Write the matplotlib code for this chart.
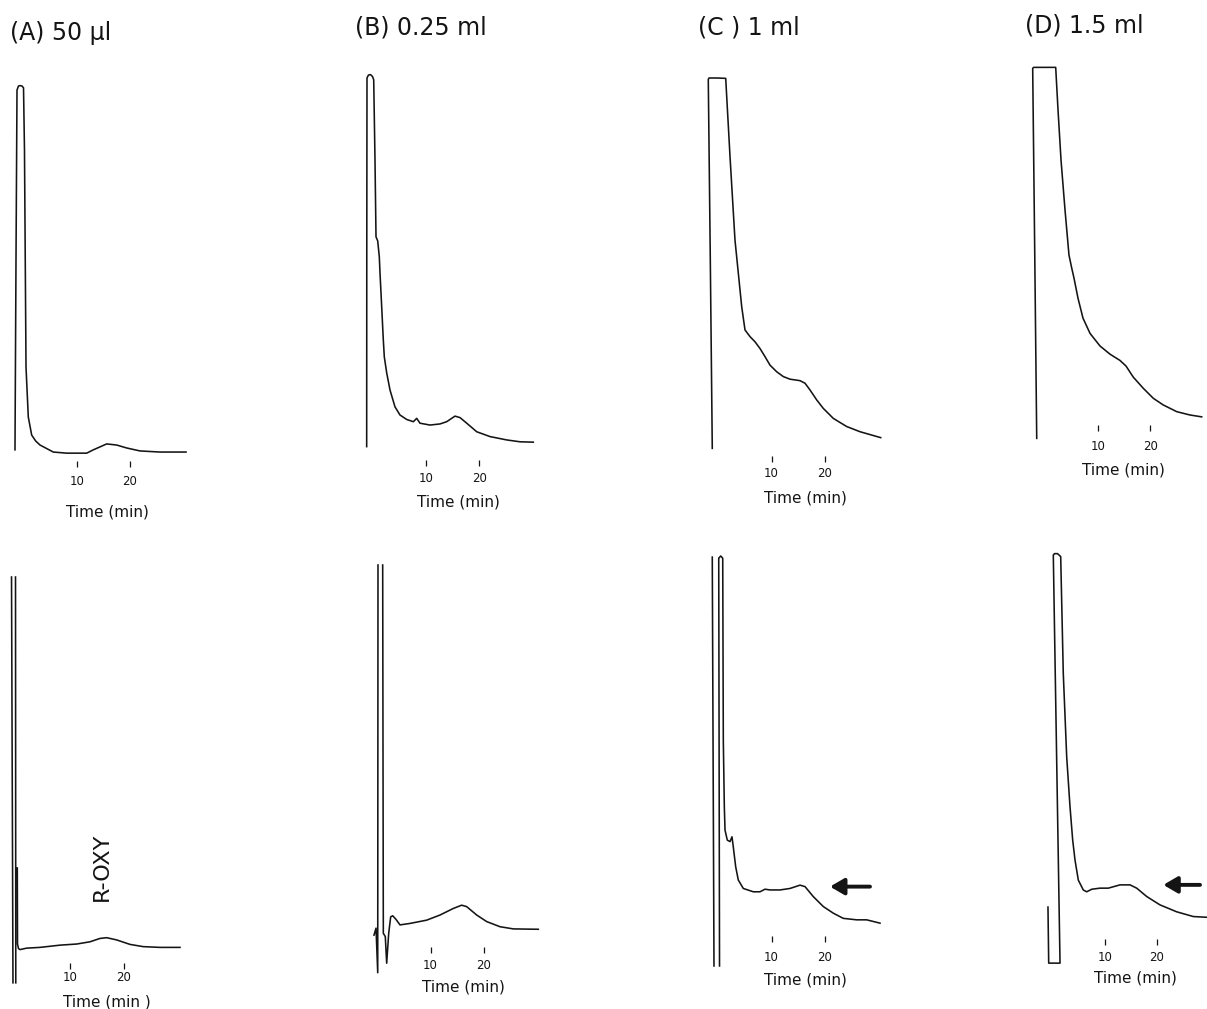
import matplotlib.pyplot as plt
import numpy as np

nan = np.nan

# panel captions and axis text
titles = ['(A) 50 µl', '(B) 0.25 ml', '(C ) 1 ml', '(D) 1.5 ml']
tick_vals = [10, 20]
xlabels = ['Time (min)', 'Time (min)', 'Time (min)', 'Time (min)',
           'Time (min )', 'Time (min)', 'Time (min)', 'Time (min)']

# traces: time (min) vs detector response (% of full scale)
# top row
a1_t = [-1.70, -1.51, -1.32, -1.04, -0.75, -0.38, -0.09, 0.09, 0.38, 0.81, 1.45, 2.2, 3.02,
        5.53, 8.06, 11.83, 13.08, 14.34, 15.60, 17.49, 19.38, 21.89, 25.66, 30.57]
a1_s = [1.4, 52.8, 98.9, 100.0, 100.1, 100.0, 99.5, 82.7, 23.8, 10.3, 5.4, 3.8, 2.7,
        0.8, 0.5, 0.5, 1.4, 2.2, 3.0, 2.7, 1.9, 1.1, 0.8, 0.8]

b1_t = [-1.13, -1.11, -1.07, -0.79, -0.41, -0.04, 0.19, 0.43, 0.62, 0.94, 1.24, 1.37, 1.69,
        1.99, 2.18, 2.63, 3.25, 4.18, 5.12, 6.38, 7.62, 8.26, 8.87, 10.75, 12.63, 13.88,
        15.44, 16.38, 17.64, 19.51, 22.01, 25.14, 27.64, 30.13]
b1_s = [0.1, 53.0, 99.2, 100.0, 100.1, 99.6, 98.7, 77.2, 56.5, 55.4, 51.1, 46.8, 37.6,
        28.8, 24.2, 19.9, 15.3, 10.8, 8.6, 7.4, 6.8, 7.7, 6.4, 5.9, 6.2, 6.8,
        8.3, 7.9, 6.4, 4.1, 2.8, 1.9, 1.4, 1.3]

c1_t = [-1.13, -1.50, -1.88, -1.74, -0.24, 1.39, 2.20, 3.13, 4.39, 5.01, 5.95, 6.89, 7.82,
        8.76, 9.70, 10.96, 12.20, 13.45, 15.33, 16.27, 17.20, 18.46, 19.70, 21.58, 24.09,
        26.59, 30.47]
c1_s = [-0.1, 50.8, 99.6, 100.0, 100.0, 99.9, 78.7, 56.2, 38.2, 31.9, 30.1, 28.7, 26.9,
        24.7, 22.4, 20.6, 19.3, 18.6, 18.2, 17.5, 15.7, 13.0, 10.7, 8.0, 5.8,
        4.4, 2.8]

d1_t = [-1.93, -2.32, -2.71, -2.55, -0.33, 1.74, 2.19, 2.77, 3.54, 4.31, 4.84, 5.28, 6.05,
        7.02, 8.38, 10.31, 12.24, 14.18, 15.34, 16.75, 18.68, 20.62, 22.55, 25.15, 27.72, 29.98]
d1_s = [-0.1, 50.7, 99.6, 99.9, 99.9, 99.9, 88.4, 74.9, 61.5, 49.3, 45.8, 43.1, 37.7,
        32.3, 28.2, 24.8, 22.6, 20.9, 19.4, 16.4, 13.4, 10.7, 8.9, 7.1, 6.2, 5.7]

# bottom row
a2_t = [-0.56, -0.83, nan, -0.09, -0.04, nan, 0.24, 0.28, 0.46, 0.74, 1.98, 4.44, 8.15,
        11.24, 13.70, 15.56, 16.80, 18.65, 21.11, 23.57, 26.67, 30.37]
a2_s = [-8.8, 100.0, nan, 100.0, -8.8, nan, 22.0, 1.6, 0.4, 0.1, 0.5, 0.7, 1.3,
        1.6, 2.2, 3.1, 3.3, 2.7, 1.5, 0.9, 0.7, 0.7]

b2_t = [-0.62, -0.24, 0.08, 0.13, nan, 1.01, 1.13, 1.50, 1.76, 2.14, 2.51, 2.89, 3.51, 4.26,
        6.14, 9.27, 11.76, 14.26, 15.83, 16.77, 18.65, 20.53, 23.02, 25.52, 30.21]
b2_s = [-1.4, 0.5, -11.7, 100.0, nan, 100.0, -0.9, -1.8, -9.1, -0.9, 3.6, 3.9, 2.9, 1.4,
        1.8, 2.7, 4.1, 5.9, 6.8, 6.4, 4.1, 2.3, 0.9, 0.3, 0.2]

c2_t = [-0.81, -1.13, nan, 0.23, 0.08, 0.45, 0.83, 0.94, 1.13, 1.26, 1.69, 2.20, 2.57, 2.81,
        3.26, 3.75, 4.69, 6.57, 7.82, 8.76, 9.70, 11.58, 13.45, 15.33, 16.27, 17.82, 19.70,
        21.58, 23.45, 25.97, 27.84, 30.34]
c2_s = [-11.1, 99.7, nan, -11.1, 99.4, 100.0, 99.4, 50.1, 32.1, 25.7, 23.0, 22.6, 23.9, 21.2,
        15.8, 12.2, 9.9, 9.0, 9.0, 9.7, 9.5, 9.5, 9.9, 10.8, 10.4, 7.7, 5.0,
        3.2, 1.8, 1.4, 1.4, 0.5]

d2_t = [-1.03, -0.89, 1.30, 0.00, 0.23, 0.81, 1.43, 1.93, 2.59, 3.23, 3.75, 4.20, 4.84, 5.80,
        6.46, 7.43, 9.03, 10.64, 12.90, 14.84, 16.13, 18.07, 20.64, 23.87, 27.08, 29.67]
d2_s = [3.0, -12.4, -12.4, 99.7, 100.1, 100.1, 99.3, 67.2, 44.3, 30.6, 21.4, 15.9, 10.4, 7.7,
        7.2, 7.9, 8.2, 8.2, 9.1, 9.1, 8.2, 5.9, 3.6, 1.7, 0.4, 0.2]

traces = [(a1_t, a1_s), (b1_t, b1_s), (c1_t, c1_s), (d1_t, d1_s),
          (a2_t, a2_s), (b2_t, b2_s), (c2_t, c2_s), (d2_t, d2_s)]

# R-OXY arrows (head time, tail time, response level) for C and D bottom
arrow_c = (20.96, 28.46, 10.4)
arrow_d = (21.28, 28.38, 9.1)

# ---- layout (pixels of the 1207x1009 page) ----
W, H = 1207, 1009
# left, right, top, bottom(tick line), t=0 px, px/min, zero px, px/unit, tick pad px, xlabel centre
layout = [
    (5, 200, 55, 467, 24.0, 5.30, 455, 3.69, 8, 107, 512),
    (350, 545, 55, 466, 372.7, 5.33, 447, 3.72, 6, 458, 502),
    (695, 890, 55, 462, 718.3, 5.33, 448, 3.70, 5, 805, 498),
    (1022, 1207, 55, 431, 1046.7, 5.17, 438, 3.71, 9, 1123, 470),
    (5, 200, 560, 969, 16.0, 5.40, 950, 3.73, 2, 107, 1002),
    (350, 545, 555, 953, 377.3, 5.33, 930, 3.65, 6, 463, 987),
    (695, 890, 545, 942, 718.3, 5.33, 925, 3.69, 9, 805, 980),
    (1022, 1207, 545, 945, 1053.3, 5.17, 918, 3.64, 6, 1135, 978),
]
title_pos = [(10, 33), (355, 28), (698, 28), (1025, 25)]
ink = '#141414'

fig = plt.figure(figsize=(W / 100, H / 100), dpi=100)
fig.patch.set_facecolor('white')

axes = []
for i, (L, R, T, B, x0, ppm, yb, k, pad, lx, ly) in enumerate(layout):
    ax = fig.add_axes([L / W, 1 - B / H, (R - L) / W, (B - T) / H])
    ax.set_xlim((L - x0) / ppm, (R - x0) / ppm)
    ax.set_ylim((yb - B) / k, (yb - T) / k)
    ax.patch.set_alpha(0)
    for sp in ax.spines.values():
        sp.set_visible(False)
    ax.set_yticks([])
    ax.set_xticks(tick_vals)
    ax.tick_params(axis='x', direction='in', length=4.5, width=0.9, color=ink,
                   pad=pad * 0.72, labelsize=8.5, labelcolor=ink)
    t, s = traces[i]
    ax.plot(t, s, color=ink, lw=1.15, clip_on=False, solid_joinstyle='round')
    ax.set_xlabel(xlabels[i], fontsize=11, color=ink)
    ax.xaxis.label.set_verticalalignment('center')
    ax.xaxis.set_label_coords((lx - L) / (R - L), -(ly - B) / (B - T))
    axes.append(ax)

for (x, y), txt in zip(title_pos, titles):
    fig.text(x / W, 1 - y / H, txt, fontsize=17, ha='left', va='center', color=ink)

# R-OXY label on panel A (bottom)
axes[4].text(15.87, 22.3, 'R-OXY', rotation=90, ha='center', va='center',
             fontsize=16, color=ink)

for ax, (t_head, t_tail, lvl) in [(axes[6], arrow_c), (axes[7], arrow_d)]:
    ax.annotate('', xy=(t_head, lvl), xytext=(t_tail, lvl),
                arrowprops=dict(arrowstyle='-|>,head_length=0.6,head_width=0.35',
                                lw=2.8, color=ink, mutation_scale=14,
                                shrinkA=0, shrinkB=0))

fig.savefig('out.png', dpi=100, facecolor='white')
